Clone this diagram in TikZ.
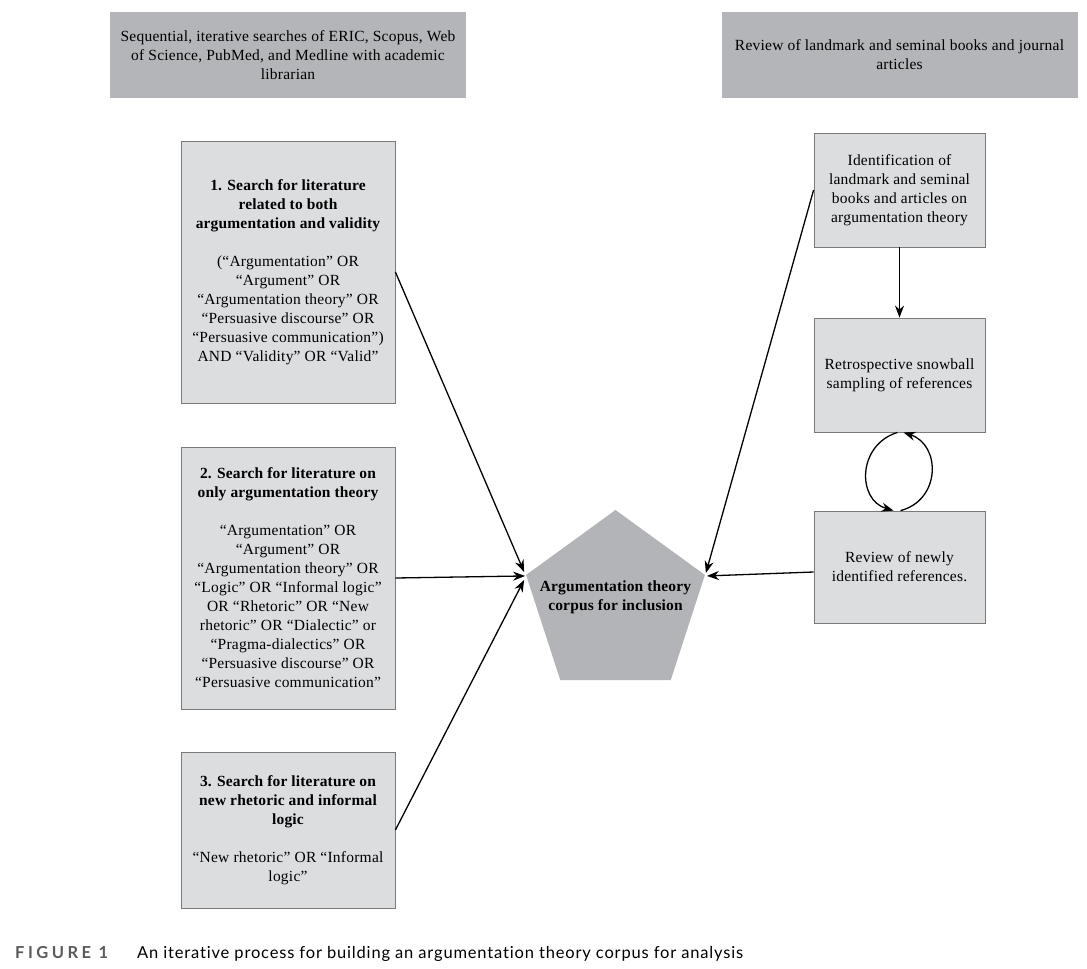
\documentclass[tikz,border=0pt]{standalone}
\usepackage{fontspec}
\setmainfont{Liberation Serif}[LetterSpace=1.5]
\newfontfamily\capfont{Lato}[Ligatures=NoCommon]
\usetikzlibrary{shapes.geometric,arrows.meta}
\definecolor{topgray}{HTML}{B4B5B8}
\definecolor{pentgray}{HTML}{B3B4B7}
\definecolor{boxgray}{HTML}{DCDDDF}
\definecolor{edgegray}{HTML}{7A7A7A}
\definecolor{capgray}{HTML}{5A5A5A}
\newcommand\hd[1]{{\bfseries\addfontfeatures{LetterSpace=1}#1}}
\begin{document}
\begin{tikzpicture}[x=1pt,y=-1pt,
  txt/.style={font=\fontsize{15.5}{19}\selectfont, align=center},
  darkbox/.style={txt, fill=topgray, draw=none, minimum width=356pt, minimum height=86pt, inner sep=0pt},
  lightbox/.style={txt, fill=boxgray, draw=edgegray, line width=0.8pt, inner sep=0pt},
  leftbox/.style={lightbox, minimum width=214pt},
  rightbox/.style={lightbox, minimum width=171pt},
  arr/.style={-{Stealth[length=12pt,width=9pt]}, line width=1.3pt}
]
\path[use as bounding box] (0,0) rectangle (1087,969);

\node[darkbox] (tl) at (288,55) {Sequential, iterative searches of ERIC, Scopus, Web\\of Science, PubMed, and Medline with academic\\librarian};
\node[darkbox] (tr) at (899.5,55) {Review of landmark and seminal books and journal\\articles};

\node[leftbox, minimum height=262pt] (b1) at (288,272) {\hd{1. Search for literature}\\\hd{related to both}\\\hd{argumentation and validity}\\[19pt](“Argumentation” OR\\“Argument” OR\\“Argumentation theory” OR\\“Persuasive discourse” OR\\“Persuasive communication”)\\AND “Validity” OR “Valid”};

\node[leftbox, minimum height=262pt] (b2) at (288,578) {\hd{2. Search for literature on}\\\hd{only argumentation theory}\\[19pt]“Argumentation” OR\\“Argument” OR\\“Argumentation theory” OR\\“Logic” OR “Informal logic”\\OR “Rhetoric” OR “New\\rhetoric” OR “Dialectic” or\\“Pragma-dialectics” OR\\“Persuasive discourse” OR\\“Persuasive communication”};

\node[leftbox, minimum height=156pt] (b3) at (288,830) {\hd{3. Search for literature on}\\\hd{new rhetoric and informal}\\\hd{logic}\\[19pt]“New rhetoric” OR “Informal\\logic”};

\node[rightbox, minimum height=114pt] (ra) at (899.5,190) {Identification of\\landmark and seminal\\books and articles on\\argumentation theory};
\node[rightbox, minimum height=114pt] (rb) at (899.5,375) {Retrospective snowball\\sampling of references};
\node[rightbox, minimum height=112pt] (rc) at (899.5,567) {Review of newly\\identified references.};

\node[regular polygon, regular polygon sides=5, minimum size=188pt, fill=pentgray, inner sep=0pt, outer sep=0pt] (pent) at (615.5,604) {};
\node[txt] (pentlabel) at (615.5,597) {\hd{Argumentation theory}\\\hd{corpus for inclusion}};

\draw[arr] (b1.east) -- ([xshift=-2pt,yshift=3pt]pent.corner 2);
\draw[arr] (b2.east) -- ([xshift=-1pt,yshift=-1pt]pent.corner 2);
\draw[arr] (b3.east) -- ([xshift=-2pt,yshift=-5pt]pent.corner 2);
\draw[arr] (ra.west) -- ([xshift=1pt,yshift=2pt]pent.corner 5);
\draw[arr] ([yshift=-5pt]rc.west) -- ([xshift=2pt,yshift=-1pt]pent.corner 5);
\draw[arr] (ra.south) -- (rb.north);
\draw[arr] ([xshift=-2pt]rb.south) .. controls (857,445) and (857,500) .. ([xshift=-6pt]rc.north);
\draw[arr] ([xshift=1pt]rc.north) .. controls (941,500) and (941,445) .. ([xshift=4pt]rb.south);

\node[anchor=base west, font=\capfont\bfseries\fontsize{16.5}{20}\selectfont, text=capgray, inner sep=0pt] (figlab) at (15,958) {\addfontfeatures{LetterSpace=21}FIGURE 1};
\node[anchor=base west, font=\capfont\fontsize{16.5}{20}\selectfont, inner sep=0pt] (captext) at (137,958) {\addfontfeatures{LetterSpace=5}An iterative process for building an argumentation theory corpus for analysis};
\end{tikzpicture}
\end{document}
